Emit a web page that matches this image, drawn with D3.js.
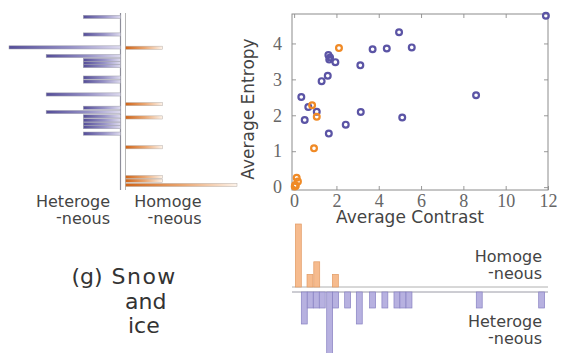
<!DOCTYPE html>
<html>
<head>
<meta charset="utf-8">
<script src="https://cdn.jsdelivr.net/npm/d3@7"></script>
<style>
body { margin: 0; background: #fff; }
svg { display: block; }
.lbl { font-family: "DejaVu Sans", sans-serif; fill: #444; }
</style>
</head>
<body>
<div id="visualization"></div>
<script>
// scatter points: heterogeneous (purple) and homogeneous (orange)
var hetContrast = [11.9, 4.96, 4.38, 3.71, 5.56, 1.62, 1.70, 1.66, 1.95, 3.13, 1.59, 1.30, 0.34, 0.67, 1.07, 0.50, 3.15, 5.11, 8.60, 2.44, 1.64];
var hetEntropy  = [4.77, 4.31, 3.86, 3.84, 3.89, 3.68, 3.61, 3.55, 3.48, 3.39, 3.10, 2.95, 2.51, 2.23, 2.10, 1.87, 2.09, 1.94, 2.56, 1.74, 1.49];
var homContrast = [2.12, 0.85, 1.07, 0.94, 0.12, 0.18, 0.08, 0.03, 0.05];
var homEntropy  = [3.87, 2.28, 1.96, 1.08, 0.26, 0.16, 0.04, 0.02, 0.06];

// entropy histogram (left), bin centres and counts
var hetEntropyBins   = [4.74, 4.25, 3.89, 3.65, 3.54, 3.45, 3.37, 3.05, 2.94, 2.58, 2.21, 2.09, 1.97, 1.86, 1.76, 1.67, 1.49];
var hetEntropyCounts = [1, 1, 3, 2, 1, 1, 1, 1, 1, 2, 1, 2, 1, 1, 1, 1, 1];
var homEntropyBins   = [3.88, 2.31, 1.94, 1.11, 0.28, 0.18, 0.06];
var homEntropyCounts = [1, 1, 1, 1, 1, 1, 3];

// contrast histogram (bottom), bin starts and counts
var hetContrastBins   = [0.34, 0.62, 0.91, 1.19, 1.54, 1.82, 2.39, 2.94, 3.57, 4.15, 4.72, 5.0, 5.29, 8.61, 11.56];
var hetContrastCounts = [2, 1, 1, 1, 4, 1, 1, 2, 1, 1, 1, 1, 1, 1, 1];
var homContrastBins   = [0.06, 0.61, 0.93, 1.81];
var homContrastCounts = [5, 1, 2, 1];

var xTicks = [0, 2, 4, 6, 8, 10, 12];
var yTicks = [0, 1, 2, 3, 4];

var svg = d3.select("#visualization").append("svg")
    .attr("width", 561)
    .attr("height", 353);

var x = d3.scaleLinear().domain([-0.1, 12]).range([292, 548]);
var y = d3.scaleLinear().domain([-0.08, 4.82]).range([190, 14]);

var hetLen = d3.scaleLinear().domain([0, 3]).range([120.5, 9]);
var homLen = d3.scaleLinear().domain([0, 3]).range([125.5, 237]);
var homUp = d3.scaleLinear().domain([0, 5]).range([287, 224]);
var hetDown = d3.scaleLinear().domain([0, 4]).range([292, 356]);

var defs = svg.append("defs");
var gp = defs.append("linearGradient").attr("id", "gradPurple");
gp.append("stop").attr("offset", "0%").attr("stop-color", "#544d98");
gp.append("stop").attr("offset", "55%").attr("stop-color", "#9590c6");
gp.append("stop").attr("offset", "100%").attr("stop-color", "#dedbef");
var go = defs.append("linearGradient").attr("id", "gradOrange");
go.append("stop").attr("offset", "0%").attr("stop-color", "#cf6418");
go.append("stop").attr("offset", "50%").attr("stop-color", "#e9a46e");
go.append("stop").attr("offset", "100%").attr("stop-color", "#fdf3ea");

// ---------LEFT HISTOGRAM---------
svg.append("line")
    .attr("x1", hetLen(0)).attr("x2", hetLen(0))
    .attr("y1", 13).attr("y2", 190)
    .attr("stroke", "#8e8e9a").attr("stroke-width", 1.2);
svg.append("line")
    .attr("x1", homLen(0)).attr("x2", homLen(0))
    .attr("y1", 13).attr("y2", 190)
    .attr("stroke", "#b5b5b5").attr("stroke-width", 1);

svg.selectAll(".hetbar")
    .data(hetEntropyBins)
    .enter().append("rect")
    .attr("class", "hetbar")
    .attr("x", function(d, i) { return hetLen(hetEntropyCounts[i]); })
    .attr("y", function(d) { return y(d) - 1.6; })
    .attr("width", function(d, i) { return hetLen(0) - hetLen(hetEntropyCounts[i]); })
    .attr("height", 3.2)
    .attr("fill", "url(#gradPurple)")
    .attr("stroke", "#a0a0ac")
    .attr("stroke-width", 0.5);

svg.selectAll(".hombar")
    .data(homEntropyBins)
    .enter().append("rect")
    .attr("class", "hombar")
    .attr("x", homLen(0))
    .attr("y", function(d) { return y(d) - 1.6; })
    .attr("width", function(d, i) { return homLen(homEntropyCounts[i]) - homLen(0); })
    .attr("height", 3.2)
    .attr("fill", "url(#gradOrange)")
    .attr("stroke", "#b8b0aa")
    .attr("stroke-width", 0.5);

// ---------BOTTOM HISTOGRAM---------
var binW = 0.28;
svg.append("line")
    .attr("x1", 292).attr("x2", 548)
    .attr("y1", homUp(0)).attr("y2", homUp(0))
    .attr("stroke", "#b0b0b0");
svg.append("line")
    .attr("x1", 292).attr("x2", 548)
    .attr("y1", hetDown(0)).attr("y2", hetDown(0))
    .attr("stroke", "#9a9aa6");

svg.selectAll(".homcol")
    .data(homContrastBins)
    .enter().append("rect")
    .attr("class", "homcol")
    .attr("x", function(d) { return x(d); })
    .attr("y", function(d, i) { return homUp(homContrastCounts[i]); })
    .attr("width", function(d) { return x(d + binW) - x(d); })
    .attr("height", function(d, i) { return homUp(0) - homUp(homContrastCounts[i]); })
    .attr("fill", "#f6bb8e")
    .attr("stroke", "#e29a63")
    .attr("stroke-width", 0.7);

svg.selectAll(".hetcol")
    .data(hetContrastBins)
    .enter().append("rect")
    .attr("class", "hetcol")
    .attr("x", function(d) { return x(d); })
    .attr("y", hetDown(0))
    .attr("width", function(d) { return x(d + binW) - x(d); })
    .attr("height", function(d, i) { return hetDown(hetContrastCounts[i]) - hetDown(0); })
    .attr("fill", "#b7b1e0")
    .attr("stroke", "#8881c2")
    .attr("stroke-width", 0.7);

// ---------SCATTER---------
function styleAxis(g) {
    g.select(".domain").remove();
    g.selectAll(".tick line").attr("stroke", "#999");
    g.selectAll(".tick text")
        .attr("fill", "#666")
        .style("font-family", "'Liberation Serif', 'Times New Roman', serif")
        .style("font-size", "18px");
}

svg.append("g")
    .attr("transform", "translate(0,190)")
    .call(d3.axisBottom(x).tickValues(xTicks).tickFormat(d3.format("d"))
        .tickSizeInner(-4).tickSizeOuter(0).tickPadding(4))
    .call(styleAxis);
svg.append("g")
    .attr("transform", "translate(292,0)")
    .call(d3.axisLeft(y).tickValues(yTicks).tickFormat(d3.format("d"))
        .tickSizeInner(-4).tickSizeOuter(0).tickPadding(10))
    .call(styleAxis);
svg.append("g")
    .attr("transform", "translate(0,14)")
    .call(d3.axisTop(x).tickValues(xTicks).tickSizeInner(-4).tickSizeOuter(0).tickFormat(""))
    .call(styleAxis);
svg.append("g")
    .attr("transform", "translate(548,0)")
    .call(d3.axisRight(y).tickValues(yTicks).tickSizeInner(-4).tickSizeOuter(0).tickFormat(""))
    .call(styleAxis);

svg.append("rect")
    .attr("x", 292).attr("y", 14)
    .attr("width", 256).attr("height", 176)
    .attr("fill", "none")
    .attr("stroke", "#8c8c8c");

svg.selectAll(".het")
    .data(hetContrast)
    .enter().append("circle")
    .attr("class", "het")
    .attr("cx", function(d) { return x(d); })
    .attr("cy", function(d, i) { return y(hetEntropy[i]); })
    .attr("r", 2.9)
    .attr("fill", "none")
    .attr("stroke", "#5b54a5")
    .attr("stroke-width", 2.2);

svg.selectAll(".hom")
    .data(homContrast)
    .enter().append("circle")
    .attr("class", "hom")
    .attr("cx", function(d) { return x(d); })
    .attr("cy", function(d, i) { return y(homEntropy[i]); })
    .attr("r", 2.9)
    .attr("fill", "none")
    .attr("stroke", "#f08a26")
    .attr("stroke-width", 2.2);

svg.append("text")
    .attr("class", "lbl")
    .attr("transform", "translate(254,109) rotate(-90)")
    .attr("text-anchor", "middle")
    .style("font-size", "17px")
    .text("Average Entropy");
svg.append("text")
    .attr("class", "lbl")
    .attr("x", 410).attr("y", 223)
    .attr("text-anchor", "middle")
    .style("font-size", "17px")
    .text("Average Contrast");

// ---------LABELS---------
function twoLine(xr, y1, y2, first) {
    svg.append("text").attr("class", "lbl")
        .attr("x", xr).attr("y", y1)
        .attr("text-anchor", "end")
        .style("font-size", "16px")
        .text(first);
    var t = svg.append("text").attr("class", "lbl")
        .attr("x", xr).attr("y", y2)
        .attr("text-anchor", "end")
        .style("font-size", "16px");
    t.append("tspan").attr("dy", -2).text("-");
    t.append("tspan").attr("dy", 2).text("neous");
}
twoLine(110, 207, 224, "Heteroge");
twoLine(201.5, 207, 224, "Homoge");
twoLine(542, 262, 279, "Homoge");
twoLine(542, 327, 344, "Heteroge");

svg.append("text").attr("class", "lbl")
    .attr("x", 71.5).attr("y", 284)
    .style("font-size", "22px").style("fill", "#333")
    .text("(g)");
svg.append("text").attr("class", "lbl")
    .attr("x", 111.5).attr("y", 284)
    .style("font-size", "22px").style("fill", "#333")
    .style("letter-spacing", "1.5px")
    .text("Snow");
svg.append("text").attr("class", "lbl")
    .attr("x", 125).attr("y", 308.5)
    .style("font-size", "22px").style("fill", "#333")
    .text("and");
svg.append("text").attr("class", "lbl")
    .attr("x", 128).attr("y", 333)
    .style("font-size", "22px").style("fill", "#333")
    .text("ice");
</script>
</body>
</html>
